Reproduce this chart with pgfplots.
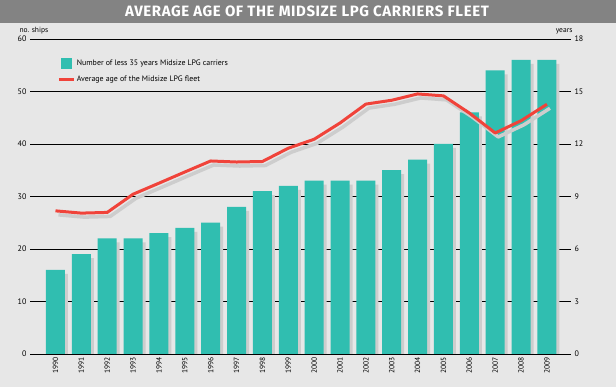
\documentclass[border=0pt]{standalone}
\usepackage{pgfplots}
\pgfplotsset{compat=1.18}
\usepackage{pgfplotstable}
\usepackage{fontspec}
\setmainfont{PT Sans}
\newfontfamily\titlefont[LetterSpace=4]{Fira Sans}
\definecolor{bg}{HTML}{E7E7E7}
\definecolor{titlebg}{HTML}{838383}
\definecolor{barteal}{HTML}{30BEB0}
\definecolor{shadowgray}{HTML}{CDCDCD}
\definecolor{redline}{HTML}{F0433A}

\pgfplotsset{
  sqlegend/.style={legend image code/.code={\fill[##1] (0pt,-5.5pt) rectangle (11pt,5.5pt);}},
  lnlegend/.style={legend image code/.code={\draw[##1] (-2pt,0pt) -- (13pt,0pt);}},
}

\pgfplotstableread{
x n age
0 16 8.18
1 19 8.05
2 22 8.09
3 22 9.13
4 23 9.76
5 24 10.4
6 25 11.03
7 28 10.97
8 31 11.0
9 32 11.76
10 33 12.27
11 33 13.2
12 33 14.28
13 35 14.5
14 37 14.86
15 40 14.75
16 46 13.77
17 54 12.63
18 56 13.33
19 56 14.27
}\datatab

\begin{document}
\begin{tikzpicture}
\useasboundingbox (-30pt,-33pt) rectangle (586pt,354pt);
\fill[bg] (-30pt,-33pt) rectangle (586pt,354pt);
\fill[titlebg] (-30pt,331.3pt) rectangle (586pt,354pt);
\node[font=\titlefont\bfseries\fontsize{15}{15}\selectfont, text=white] at (277pt,342.7pt) {AVERAGE AGE OF THE MIDSIZE LPG CARRIERS FLEET};

\begin{axis}[
  scale only axis, width=541pt, height=315pt,
  xmin=-0.985, xmax=19.93, ymin=0, ymax=60,
  ytick={0,10,...,60},
  xtick={0,...,19},
  xticklabels={1990,1991,1992,1993,1994,1995,1996,1997,1998,1999,2000,2001,2002,2003,2004,2005,2006,2007,2008,2009},
  xticklabel style={rotate=90, anchor=east, font=\fontsize{7.5}{8}\selectfont},
  yticklabel style={font=\fontsize{8}{9}\selectfont},
  /pgf/number format/assume math mode=true,
  ymajorgrids, grid style={black, line width=0.8pt},
  axis line style={draw=none},
  major tick length=0pt,
  legend style={at={(axis description cs:0.05,0.94)}, anchor=north west, draw=none, fill=none,
    inner sep=0pt, row sep=5pt, font=\fontsize{7.9}{8}\selectfont, nodes={inner sep=1.5pt}},
  legend cell align=left,
]
\addplot[ybar, bar width=19pt, bar shift=0pt, fill=shadowgray, draw=none, xshift=3pt, yshift=-4pt, forget plot] table[x=x,y=n]{\datatab};
\addplot[ybar, bar width=19pt, bar shift=0pt, fill=barteal, draw=none, sqlegend] table[x=x,y=n]{\datatab};
\addlegendentry{Number of less 35 years Midsize LPG carriers}
\addlegendimage{redline, line width=3pt, lnlegend}
\addlegendentry{Average age of the Midsize LPG fleet}
\end{axis}

\begin{axis}[
  scale only axis, width=541pt, height=315pt,
  xmin=-0.985, xmax=19.93, ymin=0, ymax=18,
  ytick={0,3,...,18},
  axis x line=none, axis y line*=right,
  axis line style={draw=none},
  major tick length=0pt,
  yticklabel style={font=\fontsize{8}{9}\selectfont},
  /pgf/number format/assume math mode=true,
]
\addplot[shadowgray, line width=3.5pt, line join=round, xshift=3pt, yshift=-4pt] table[x=x,y=age]{\datatab};
\addplot[redline, line width=3pt, line join=round] table[x=x,y=age]{\datatab};
\end{axis}

\node[anchor=base west, font=\fontsize{7.5}{8}\selectfont] at (-14pt,321pt) {no. ships};
\node[anchor=base east, font=\fontsize{7.5}{8}\selectfont] at (546pt,321pt) {years};
\end{tikzpicture}
\end{document}
